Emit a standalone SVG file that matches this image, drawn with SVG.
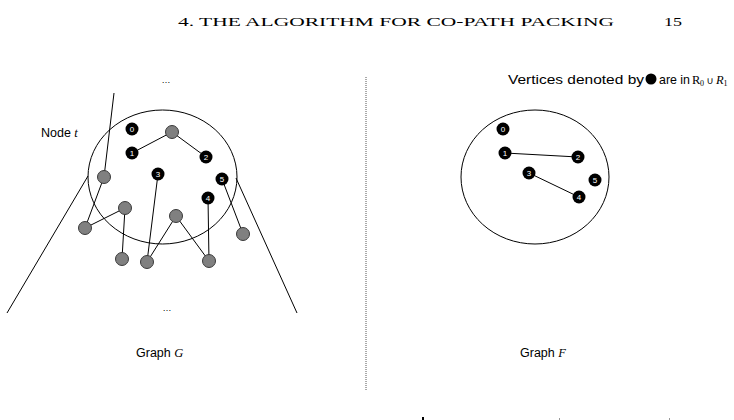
<svg xmlns="http://www.w3.org/2000/svg" width="734" height="420" viewBox="0 0 734 420">
<style>
.lbl{font-family:"Liberation Sans","Open Sans",sans-serif;font-size:12.5px;fill:#000}
.leg{font-family:"Liberation Sans","Open Sans",sans-serif;font-size:13.5px;fill:#000}
.it{font-family:"Liberation Serif",serif;font-style:italic}
.hdr{font-family:"Liberation Serif","DejaVu Serif",serif;font-size:13.5px;fill:#000}
.e{stroke:#000;stroke-width:1;fill:none}
.g{fill:#808080;stroke:#3a3a3a;stroke-width:1}
.b{fill:#000}
.n{font-family:"Liberation Sans",sans-serif;font-size:8px;fill:#fff;text-anchor:middle}
.dots{font-family:"Liberation Sans",sans-serif;font-size:9px;fill:#000;text-anchor:middle}
</style>
<rect width="734" height="420" fill="#fff"/>
<text class="hdr" x="178" y="26" textLength="436" lengthAdjust="spacingAndGlyphs">4.  THE ALGORITHM FOR CO-PATH PACKING</text>
<text class="hdr" x="664" y="26" textLength="18" lengthAdjust="spacingAndGlyphs">15</text>

<g id="clusterG">
<ellipse class="e" cx="162.5" cy="177" rx="74.5" ry="67"/>
<text class="dots" x="166" y="83">…</text>
<text class="dots" x="167" y="311">…</text>
<text class="lbl" x="41" y="136.5">Node <tspan class="it">t</tspan></text>
<text class="lbl" x="136" y="357">Graph <tspan class="it">G</tspan></text>
</g>

<g id="connectors">
<line class="e" x1="88" y1="176" x2="7" y2="313"/>
<line class="e" x1="236" y1="178" x2="297" y2="313"/>
<line class="e" x1="114" y1="93" x2="104" y2="177"/>
<line class="e" x1="132" y1="153" x2="172" y2="132"/>
<line class="e" x1="172" y1="132" x2="206" y2="157"/>
<line class="e" x1="104" y1="177" x2="85" y2="228"/>
<line class="e" x1="85" y1="228" x2="125" y2="208"/>
<line class="e" x1="125" y1="208" x2="122" y2="259"/>
<line class="e" x1="158" y1="174" x2="147" y2="262"/>
<line class="e" x1="147" y1="262" x2="176" y2="216"/>
<line class="e" x1="176" y1="216" x2="209" y2="261"/>
<line class="e" x1="208" y1="198" x2="209" y2="261"/>
<line class="e" x1="222" y1="179" x2="243" y2="234"/>
<line class="e" x1="505" y1="153" x2="578" y2="157"/>
<line class="e" x1="529" y1="173" x2="579" y2="197"/>
</g>

<g id="gnodes">
<circle class="g" cx="172" cy="132" r="6.5"/>
<circle class="g" cx="104" cy="177" r="6.5"/>
<circle class="g" cx="125" cy="208" r="6.5"/>
<circle class="g" cx="85" cy="228" r="6.5"/>
<circle class="g" cx="176" cy="216" r="6.5"/>
<circle class="g" cx="243" cy="234" r="6.5"/>
<circle class="g" cx="122" cy="259" r="6.5"/>
<circle class="g" cx="147" cy="262" r="6.5"/>
<circle class="g" cx="209" cy="261" r="6.5"/>
</g>
<g id="g-v0"><circle class="b" cx="132" cy="129" r="6.5"/><text class="n" x="132" y="132">0</text></g>
<g id="g-v1"><circle class="b" cx="132" cy="153" r="6.5"/><text class="n" x="132" y="156">1</text></g>
<g id="g-v2"><circle class="b" cx="206" cy="157" r="6.5"/><text class="n" x="206" y="160">2</text></g>
<g id="g-v3"><circle class="b" cx="158" cy="174" r="6.5"/><text class="n" x="158" y="177">3</text></g>
<g id="g-v4"><circle class="b" cx="208" cy="198" r="6.5"/><text class="n" x="208" y="201">4</text></g>
<g id="g-v5"><circle class="b" cx="222" cy="179" r="6.5"/><text class="n" x="222" y="182">5</text></g>

<line x1="366" y1="77" x2="366" y2="391" stroke="#555" stroke-width="1" stroke-dasharray="1,1"/>

<g id="clusterF">
<ellipse class="e" cx="535" cy="177" rx="74" ry="67"/>
<text class="lbl" x="520" y="357">Graph <tspan class="it">F</tspan></text>
</g>
<g id="f-v0"><circle class="b" cx="503" cy="129" r="6.5"/><text class="n" x="503" y="132">0</text></g>
<g id="f-v1"><circle class="b" cx="505" cy="153" r="6.5"/><text class="n" x="505" y="156">1</text></g>
<g id="f-v2"><circle class="b" cx="578" cy="157" r="6.5"/><text class="n" x="578" y="160">2</text></g>
<g id="f-v3"><circle class="b" cx="529" cy="173" r="6.5"/><text class="n" x="529" y="176">3</text></g>
<g id="f-v4"><circle class="b" cx="579" cy="197" r="6.5"/><text class="n" x="579" y="200">4</text></g>
<g id="f-v5"><circle class="b" cx="595" cy="180" r="6.5"/><text class="n" x="595" y="183">5</text></g>

<g id="legend">
<text class="leg" x="508" y="84" textLength="136" lengthAdjust="spacingAndGlyphs">Vertices denoted by</text>
<circle class="b" cx="651" cy="79" r="5.5"/>
<text class="leg" x="659" y="84" textLength="31" lengthAdjust="spacingAndGlyphs">are in</text>
<text x="692" y="84" font-family="Liberation Serif" font-size="12.5">R</text>
<text x="700" y="86" font-family="Liberation Serif" font-size="8">0</text>
<text x="706.5" y="84" font-family="DejaVu Sans" font-size="10">∪</text>
<text x="716" y="84" font-family="Liberation Serif" font-size="12.5" font-style="italic">R</text>
<text x="723.5" y="86" font-family="Liberation Serif" font-size="8">1</text>
</g>

<g id="cutoff">
<rect x="422" y="417" width="2" height="3" fill="#000"/>
<rect x="559" y="418" width="1" height="2" fill="#999"/>
<rect x="669" y="418" width="1" height="2" fill="#999"/>
</g>
</svg>
